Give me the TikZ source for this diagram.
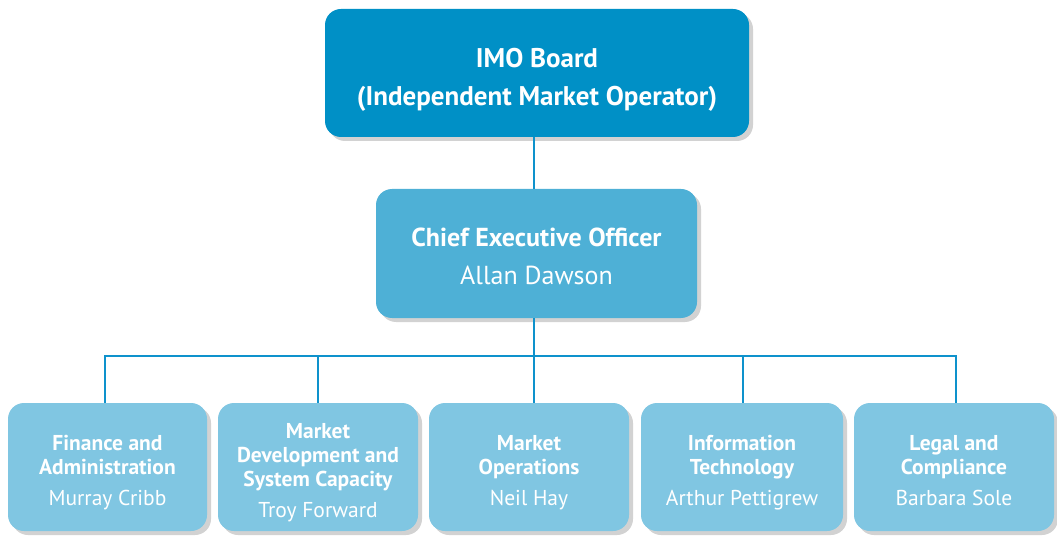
\documentclass[tikz,border=0pt]{standalone}
\usepackage{fontspec}
\setmainfont{PT Sans}
\usetikzlibrary{shadows}
\definecolor{boardblue}{RGB}{0,144,198}
\definecolor{ceoblue}{RGB}{78,176,214}
\definecolor{deptblue}{RGB}{128,198,226}
\definecolor{lineblue}{RGB}{14,146,204}
\tikzset{
  box/.style={rectangle, rounded corners=16pt, inner sep=0pt, draw=none,
    drop shadow={opacity=0.25, shadow xshift=4pt, shadow yshift=-4pt, fill=black!70}},
  txt/.style={align=center, text=white, inner sep=0pt},
  boardbox/.style={box, fill=boardblue, minimum width=424pt, minimum height=128pt},
  ceobox/.style={box, fill=ceoblue, minimum width=321pt, minimum height=129pt},
  deptbox/.style={box, fill=deptblue, minimum width=200pt, minimum height=128pt},
  boardtxt/.style={txt, font=\fontsize{27}{38}\selectfont\bfseries},
  ceotxt/.style={txt, font=\fontsize{26}{38}\selectfont},
  depttxt/.style={txt, font=\fontsize{21.5}{24}\selectfont},
  link/.style={draw=lineblue, line width=2.6pt}
}
\newcommand{\dq}{\vphantom{Ay}}
\begin{document}
\begin{tikzpicture}[x=1pt,y=-1pt]
\useasboundingbox (0,0) rectangle (1057,537);
\node[boardbox] (board) at (537,73) {};
\node[ceobox] (ceo) at (536.5,253.5) {};
\node[deptbox, minimum width=199pt] (fin) at (107.5,467) {};
\node[deptbox] (mdev) at (318,467) {};
\node[deptbox] (mops) at (529,467) {};
\node[deptbox, minimum width=202pt] (it) at (742,467) {};
\node[deptbox] (legal) at (954,467) {};
\node[boardtxt] (boardlbl) at (537,79.5) {IMO Board\\(Independent Market Operator)};
\node[ceotxt] (ceolbl) at (536.5,256.5) {\textbf{Chief Executive Officer}\\Allan Dawson};
\node[depttxt] (finlbl) at (107.5,473) {\textbf{\dq Finance and}\\\textbf{Administration}\\[7pt]\dq Murray Cribb};
\node[depttxt] (mdevlbl) at (318,473) {\textbf{\dq Market}\\\textbf{Development and}\\\textbf{System Capacity}\\[7pt]\dq Troy Forward};
\node[depttxt] (mopslbl) at (529,473) {\textbf{\dq Market}\\\textbf{Operations}\\[7pt]\dq Neil Hay};
\node[depttxt] (itlbl) at (742,473) {\textbf{\dq Information}\\\textbf{Technology}\\[7pt]\dq Arthur Pettigrew};
\node[depttxt] (legallbl) at (954,473) {\textbf{\dq Legal and}\\\textbf{Compliance}\\[7pt]\dq Barbara Sole};
\coordinate (bus) at (534,356);
\draw[link] (board.south -| bus) -- (ceo.north -| bus);
\draw[link] (ceo.south -| bus) -- (bus);
\draw[link] (fin.north -| 105,0) |- (bus) -| (legal.north -| 956,0);
\draw[link] (mdev.north) -- (mdev.north |- bus);
\draw[link] (bus) -- (mops.north -| bus);
\draw[link] (it.north -| 743,0) -- (bus -| 743,0);
\end{tikzpicture}
\end{document}
